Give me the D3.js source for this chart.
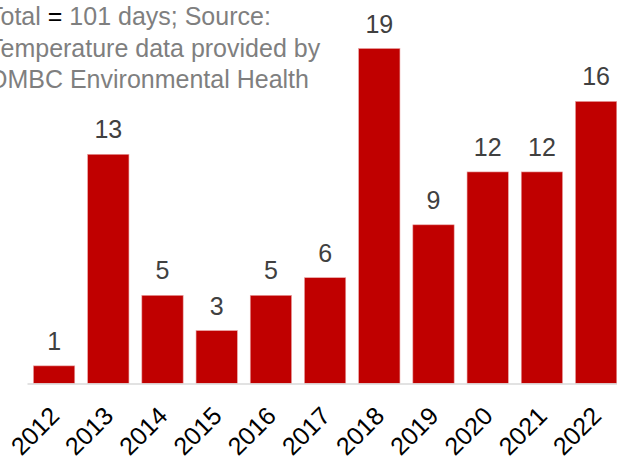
<!doctype html>
<html lang="en">
<head>
<meta charset="utf-8">
<title>Days per year</title>
<script src="https://d3js.org/d3.v7.min.js"></script>
<style>
  html, body { margin: 0; padding: 0; background: #fff; overflow: hidden; }
  svg { display: block; font-family: "Liberation Sans", Arial, sans-serif; }
</style>
</head>
<body>
<div id="main"></div>
<script>
const years = ['2012', '2013', '2014', '2015', '2016', '2017', '2018', '2019', '2020', '2021', '2022']
const days = [1, 13, 5, 3, 5, 6, 19, 9, 12, 12, 16]
const noteLines = [
  ['Total ', '=', ' 101 days; Source:'],
  ['Temperature data provided by'],
  ['OMBC Environmental Health']
]

const width = 617
const height = 457
const baseY = 383.5

const svg = d3.select('#main').append('svg')
  .attr('width', width)
  .attr('height', height)

const x = d3.scaleBand()
  .domain(years)
  .range([27, 623.2])
  .paddingInner(0.238)
  .paddingOuter(0.119)

const y = d3.scaleLinear()
  .domain([0, 19])
  .range([baseY, 48.5])

// bars
svg.append('g').selectAll('rect')
  .data(days)
  .enter().append('rect')
  .attr('x', (d, i) => x(years[i]))
  .attr('y', d => y(d))
  .attr('width', x.bandwidth())
  .attr('height', d => baseY - y(d))
  .attr('fill', '#c00000')
  .attr('stroke', '#e9a3a3')
  .attr('stroke-width', 0.6)

// axis
const axis = svg.append('g')
  .attr('transform', `translate(0,${baseY})`)
  .call(d3.axisBottom(x).tickSize(0).tickPadding(0))

axis.select('.domain').attr('stroke', '#d9d9d9').attr('stroke-width', 1.3)

axis.selectAll('text')
  .attr('fill', '#000')
  .style('font-size', '25px')
  .attr('text-anchor', 'end')
  .attr('dy', null)
  .attr('y', null)
  .attr('transform', `translate(${x.bandwidth() / 2 - 14},34) rotate(-45)`)

// value labels
svg.append('g').selectAll('text')
  .data(days)
  .enter().append('text')
  .attr('x', (d, i) => x(years[i]) + x.bandwidth() / 2)
  .attr('y', d => y(d) - 16)
  .attr('text-anchor', 'middle')
  .attr('fill', '#404040')
  .style('font-size', '25px')
  .text(d => d)

// note, top left
const note = svg.append('text')
  .attr('x', -12)
  .attr('y', 25)
  .attr('fill', '#7f7f7f')
  .style('font-size', '25px')

noteLines.forEach((parts, i) => {
  parts.forEach((p, j) => {
    const t = note.append('tspan').text(p)
    if (j === 0) t.attr('x', -12).attr('y', 25 + i * 31.5)
    if (p === '=') t.attr('fill', '#000')
  })
})
</script>
</body>
</html>
